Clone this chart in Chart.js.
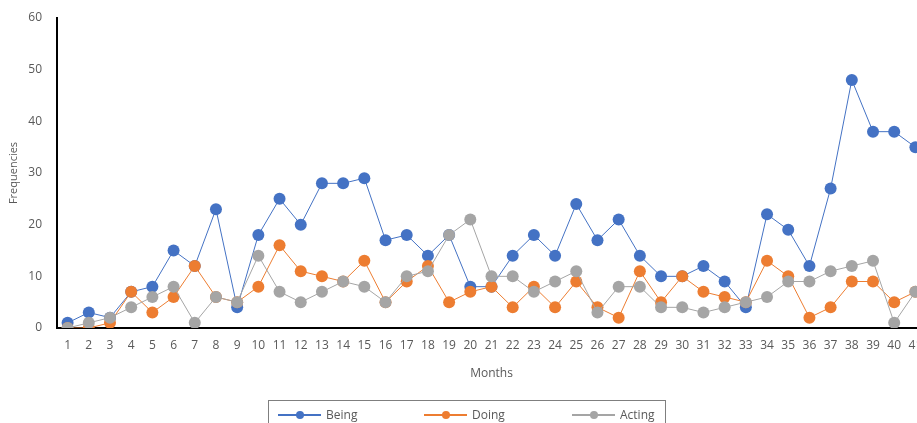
<!DOCTYPE html>
<html>
<head>
<meta charset="utf-8">
<script src="https://cdn.jsdelivr.net/npm/chart.js@4"></script>
<style>
  html, body { margin: 0; padding: 0; background: #ffffff; overflow: hidden; }
  #wrap { position: relative; width: 917px; height: 423px; overflow: hidden; }
  #c { position: absolute; left: 0; top: 0; }
  #legend { position: absolute; left: 268px; top: 400px; width: 398px; height: 30px;
            border: 1px solid #7f7f7f; box-sizing: border-box; font-family: "Open Sans", sans-serif;
            font-size: 12px; color: #595959; }
  .item { position: absolute; top: 0; height: 28px; }
  .line { position: absolute; top: 13px; width: 43px; height: 1.5px; }
  .dot { position: absolute; top: 10px; left: 18px; width: 8px; height: 8px; border-radius: 50%; }
  .txt { position: absolute; top: 5px; left: 48px; white-space: nowrap; }
</style>
</head>
<body>
<div id="wrap">
  <canvas id="c" width="934" height="428"></canvas>
  <div id="legend"></div>
</div>
<script>
const months = ["1","2","3","4","5","6","7","8","9","10","11","12","13","14","15","16","17","18","19","20","21","22","23","24","25","26","27","28","29","30","31","32","33","34","35","36","37","38","39","40","41"];
const seriesNames = ["Being", "Doing", "Acting"];
const being  = [1,3,2,7,8,15,12,23,4,18,25,20,28,28,29,17,18,14,18,8,8,14,18,14,24,17,21,14,10,10,12,9,4,22,19,12,27,48,38,38,35];
const doing  = [0,0,1,7,3,6,12,6,5,8,16,11,10,9,13,5,9,12,5,7,8,4,8,4,9,4,2,11,5,10,7,6,5,13,10,2,4,9,9,5,7];
const acting = [0,1,2,4,6,8,1,6,5,14,7,5,7,9,8,5,10,11,18,21,10,10,7,9,11,3,8,8,4,4,3,4,5,6,9,9,11,12,13,1,7];
const colors = ["#4472C4", "#ED7D31", "#A5A5A5"];
const yTicks = [0, 10, 20, 30, 40, 50, 60];

const values = [being, doing, acting];
const font = { family: "'Open Sans', sans-serif", size: 12 };

const datasets = values.map((v, i) => ({
  label: seriesNames[i],
  data: v,
  borderColor: colors[i],
  backgroundColor: colors[i],
  pointBackgroundColor: colors[i],
  pointBorderColor: colors[i],
  pointRadius: 6,
  pointBorderWidth: 0,
  borderWidth: 1,
  tension: 0,
  order: 3 - i
}));

new Chart(document.getElementById('c'), {
  type: 'line',
  data: { labels: months, datasets },
  options: {
    responsive: false,
    animation: false,
    devicePixelRatio: 1,
    layout: { padding: { top: 18, right: 8, left: 0, bottom: 45 } },
    plugins: { legend: { display: false }, tooltip: { enabled: false } },
    scales: {
      x: {
        type: 'category',
        offset: true,
        grid: { display: false, drawTicks: false },
        border: { display: true, color: '#000000', width: 2 },
        ticks: { font, color: '#595959', padding: 10, maxRotation: 0, autoSkip: false },
        title: { display: true, text: 'Months', font, color: '#595959', padding: { top: 4, bottom: 2 } },
        afterFit: s => { s.height = 55; s.paddingLeft = 0; s.paddingRight = 0; }
      },
      y: {
        min: 0, max: 60,
        grid: { display: false, drawTicks: false },
        border: { display: true, color: '#000000', width: 2 },
        afterBuildTicks: s => { s.ticks = yTicks.map(v => ({ value: v })); },
        ticks: { font, color: '#595959', padding: 15 },
        title: { display: true, text: 'Frequencies', font: { family: "'Open Sans', sans-serif", size: 11 }, color: '#595959', padding: { top: 7, bottom: 7 } },
        afterFit: s => { s.width = 57; s.paddingTop = 0; s.paddingBottom = 0; }
      }
    }
  }
});

// Legend
const legend = document.getElementById('legend');
const itemLefts = [9, 155, 303];
seriesNames.forEach((name, i) => {
  const it = document.createElement('div');
  it.className = 'item';
  it.style.left = itemLefts[i] + 'px';
  it.innerHTML = '<div class="line" style="background:' + colors[i] + '"></div>' +
                 '<div class="dot" style="background:' + colors[i] + '"></div>' +
                 '<div class="txt">' + name + '</div>';
  legend.appendChild(it);
});
</script>
</body>
</html>
